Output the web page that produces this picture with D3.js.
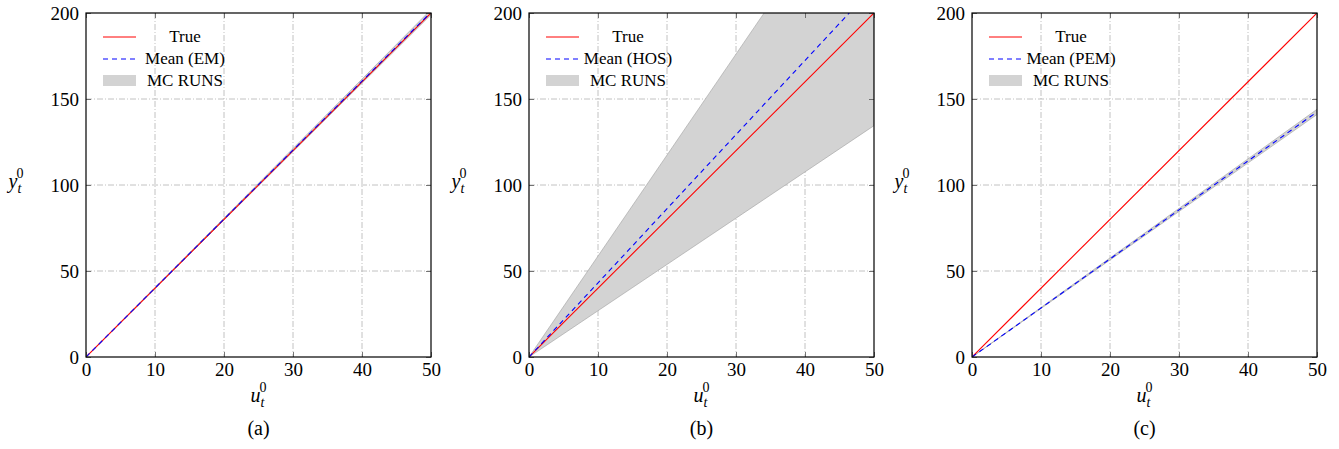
<!DOCTYPE html>
<html><head><meta charset="utf-8">
<script src="https://cdn.jsdelivr.net/npm/d3@7"></script>
<style>body{margin:0;background:#fff}svg{display:block}text{font-family:"Liberation Serif","DejaVu Serif",serif;fill:#000}</style>
</head><body><svg id="c" width="1339" height="449"></svg>
<script>
const uValues = [0, 50];
const xTicks = [0, 10, 20, 30, 40, 50];
const yTicks = [0, 50, 100, 150, 200];
const panelLabels = ["(a)", "(b)", "(c)"];
const meanNames = ["Mean (EM)", "Mean (HOS)", "Mean (PEM)"];
const trueValues = [0, 200];
const meanEM = [0, 200.5];
const bandEMLow = [0, 199];
const bandEMHigh = [0, 202];
const meanHOS = [0, 215.5];
const bandHOSLow = [0, 134.5];
const bandHOSHigh = [0, 293.5];
const meanPEM = [0, 142.5];
const bandPEMLow = [0, 141];
const bandPEMHigh = [0, 144];

const panels = [
  {x0: 86, mean: meanEM, lo: bandEMLow, hi: bandEMHigh},
  {x0: 529, mean: meanHOS, lo: bandHOSLow, hi: bandHOSHigh},
  {x0: 972, mean: meanPEM, lo: bandPEMLow, hi: bandPEMHigh}
];
const W = 345, pTop = 13, pBottom = 357;
const FONT = '"Liberation Serif","DejaVu Serif",serif';
const svg = d3.select("#c");

panels.forEach((p, i) => {
  const g = svg.append("g");
  const x = d3.scaleLinear().domain([0, 50]).range([p.x0, p.x0 + W]);
  const y = d3.scaleLinear().domain([0, 200]).range([pBottom, pTop]);
  const clipId = "clip" + i;
  svg.append("clipPath").attr("id", clipId).append("rect")
    .attr("x", p.x0).attr("y", pTop).attr("width", W).attr("height", pBottom - pTop);
  const grid = g.append("g").attr("stroke", "#b3b3b3").attr("stroke-width", 0.8).attr("stroke-dasharray", "6,2,1,2");
  xTicks.slice(1, -1).forEach(t => grid.append("line").attr("x1", x(t)).attr("x2", x(t)).attr("y1", pTop).attr("y2", pBottom));
  yTicks.slice(1, -1).forEach(t => grid.append("line").attr("y1", y(t)).attr("y2", y(t)).attr("x1", p.x0).attr("x2", p.x0 + W));
  const data = uValues.map((u, k) => ({u, t: trueValues[k], m: p.mean[k], lo: p.lo[k], hi: p.hi[k]}));
  const plot = g.append("g").attr("clip-path", `url(#${clipId})`);
  plot.append("path").datum(data).attr("fill", "#d3d3d3").attr("stroke", "#a0a0a0").attr("stroke-width", 0.6)
    .attr("d", d3.area().x(d => x(d.u)).y0(d => y(d.lo)).y1(d => y(d.hi)));
  plot.append("path").datum(data).attr("fill", "none").attr("stroke", "#ff0000").attr("stroke-width", 1.1)
    .attr("d", d3.line().x(d => x(d.u)).y(d => y(d.t)));
  plot.append("path").datum(data).attr("fill", "none").attr("stroke", "#0000ff").attr("stroke-width", 1.1)
    .attr("stroke-dasharray", "5,4")
    .attr("d", d3.line().x(d => x(d.u)).y(d => y(d.m)));
  const ax = g.append("g").attr("transform", `translate(0,${pBottom})`)
    .call(d3.axisBottom(x).tickValues(xTicks).tickSize(-5).tickPadding(6));
  const ay = g.append("g").attr("transform", `translate(${p.x0},0)`)
    .call(d3.axisLeft(y).tickValues(yTicks).tickSize(-5).tickPadding(7));
  const axT = g.append("g").attr("transform", `translate(0,${pTop})`)
    .call(d3.axisTop(x).tickValues(xTicks).tickSize(-5).tickFormat(""));
  const ayR = g.append("g").attr("transform", `translate(${p.x0 + W},0)`)
    .call(d3.axisRight(y).tickValues(yTicks).tickSize(-5).tickFormat(""));
  [ax, ay, axT, ayR].forEach(a => {
    a.attr("font-family", FONT).attr("font-size", 19);
    a.select(".domain").remove();
    a.selectAll("line").attr("stroke", "#555").attr("stroke-width", 0.8);
    a.selectAll("text").attr("font-family", FONT).attr("font-size", 19).attr("fill", "#000");
  });
  g.append("rect").attr("x", p.x0).attr("y", pTop).attr("width", W).attr("height", pBottom - pTop)
    .attr("fill", "none").attr("stroke", "#000").attr("stroke-width", 1.2);
  const yl = g.append("text").attr("x", p.x0 - 70).attr("y", 188).attr("text-anchor", "middle")
    .attr("font-family", FONT).attr("font-size", 20).attr("font-style", "italic");
  yl.append("tspan").text("y");
  yl.append("tspan").attr("dy", 5).attr("font-size", 14).text("t");
  yl.append("tspan").attr("dy", -15).attr("dx", -5).attr("font-size", 14).attr("font-style", "normal").text("0");
  const xl = g.append("text").attr("x", x(25)).attr("y", 402).attr("text-anchor", "middle")
    .attr("font-family", FONT).attr("font-size", 20).attr("font-style", "italic");
  xl.append("tspan").text("u");
  xl.append("tspan").attr("dy", 5).attr("font-size", 14).text("t");
  xl.append("tspan").attr("dy", -15).attr("dx", -5).attr("font-size", 14).attr("font-style", "normal").text("0");
  g.append("text").attr("x", x(25)).attr("y", 435).attr("text-anchor", "middle")
    .attr("font-family", FONT).attr("font-size", 20).text(panelLabels[i]);
  const lx = p.x0 + 17;
  const lg = g.append("g");
  lg.append("line").attr("x1", lx).attr("x2", lx + 33).attr("y1", 37).attr("y2", 37).attr("stroke", "#ff0000").attr("stroke-width", 1);
  lg.append("line").attr("x1", lx).attr("x2", lx + 33).attr("y1", 59).attr("y2", 59).attr("stroke", "#0000ff").attr("stroke-width", 1).attr("stroke-dasharray", "5,4");
  lg.append("rect").attr("x", lx).attr("y", 75).attr("width", 33).attr("height", 11).attr("fill", "#d3d3d3");
  const tx = lx + 82;
  [["True", 42], [meanNames[i], 64], ["MC RUNS", 86]].forEach(([t, yy]) =>
    lg.append("text").attr("x", tx).attr("y", yy).attr("text-anchor", "middle")
      .attr("font-family", FONT).attr("font-size", 17).text(t));
});
</script></body></html>
